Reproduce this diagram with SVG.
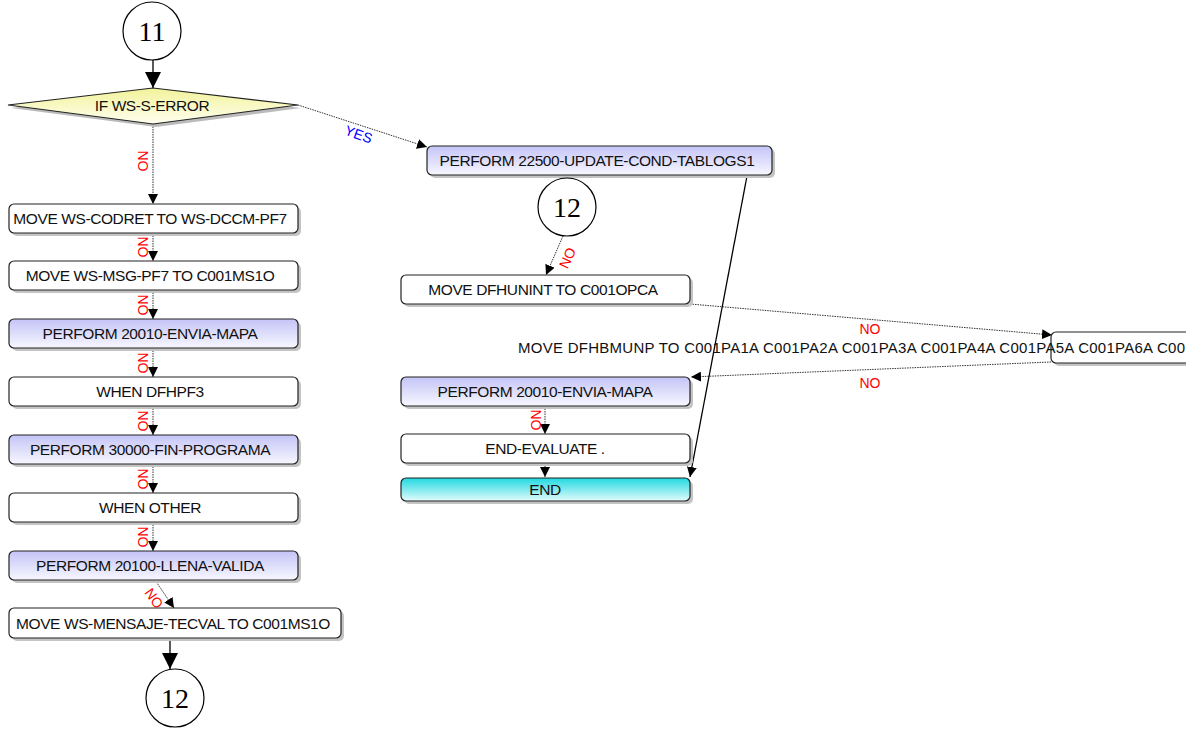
<svg xmlns="http://www.w3.org/2000/svg" width="1201" height="731" viewBox="0 0 1201 731">
<style>
.box{stroke:#222;stroke-width:1.2}
.w{fill:#fff}
.b{fill:url(#gb)}
.c{fill:url(#gc)}
.sh{fill:#c4c4c4}
.t{font-family:"Liberation Sans",Arial,sans-serif;font-size:15.5px;letter-spacing:-0.4px;fill:#111;text-anchor:middle}
.tl{font-family:"Liberation Sans",Arial,sans-serif;font-size:15px;fill:#111}
.circ{fill:#fff;stroke:#000;stroke-width:1.2}
.ct{font-family:"Liberation Serif","Times New Roman",serif;font-size:28px;fill:#000;text-anchor:middle}
.dot{fill:none;stroke:#333;stroke-width:1;stroke-dasharray:1.5 1}
.sol{fill:none;stroke:#000;stroke-width:1.3}
.no{font-family:"Liberation Sans",Arial,sans-serif;font-size:14px;fill:#f00}
.yes{font-family:"Liberation Sans",Arial,sans-serif;font-size:14px;fill:#00f}
</style>
<defs>
<linearGradient id="gb" x1="0" y1="0" x2="0" y2="1"><stop offset="0" stop-color="#c4c4f7"/><stop offset="1" stop-color="#f7f7ff"/></linearGradient>
<linearGradient id="gc" x1="0" y1="0" x2="0" y2="1"><stop offset="0" stop-color="#1fd9e0"/><stop offset="1" stop-color="#e4fbfc"/></linearGradient>
<linearGradient id="gy" x1="0" y1="0" x2="0" y2="1"><stop offset="0" stop-color="#f2f29a"/><stop offset="1" stop-color="#fffff0"/></linearGradient>
<marker id="as" viewBox="0 0 10 10" refX="10" refY="5" markerWidth="10" markerHeight="10" markerUnits="userSpaceOnUse" orient="auto"><path d="M0,0 L10,5 L0,10 z" fill="#000"/></marker>
<marker id="al" viewBox="0 0 10 10" refX="10" refY="5" markerWidth="16" markerHeight="16" markerUnits="userSpaceOnUse" orient="auto"><path d="M0,0 L10,5 L0,10 z" fill="#000"/></marker>
<clipPath id="clipR"><rect x="0" y="0" width="1186" height="731"/></clipPath>
</defs>
<rect width="1201" height="731" fill="#fff"/>

<g id="connectors">
<line class="sol" x1="153" y1="60" x2="153" y2="88" marker-end="url(#al)"/>
<line class="dot" x1="153" y1="124" x2="153" y2="204" marker-end="url(#as)"/>
<text class="no" transform="translate(138,161) rotate(90)" text-anchor="middle">NO</text>
<line class="dot" x1="298" y1="105" x2="427" y2="147" marker-end="url(#as)"/>
<text class="yes" transform="translate(357,139) rotate(20)" text-anchor="middle">YES</text>

<line class="dot" x1="153" y1="233" x2="153" y2="261" marker-end="url(#as)"/>
<text class="no" transform="translate(138,247) rotate(90)" text-anchor="middle">NO</text>
<line class="dot" x1="153" y1="290" x2="153" y2="319" marker-end="url(#as)"/>
<text class="no" transform="translate(138,305) rotate(90)" text-anchor="middle">NO</text>
<line class="dot" x1="153" y1="348" x2="153" y2="377" marker-end="url(#as)"/>
<text class="no" transform="translate(138,363) rotate(90)" text-anchor="middle">NO</text>
<line class="dot" x1="153" y1="406" x2="153" y2="435" marker-end="url(#as)"/>
<text class="no" transform="translate(138,421) rotate(90)" text-anchor="middle">NO</text>
<line class="dot" x1="153" y1="464" x2="153" y2="493" marker-end="url(#as)"/>
<text class="no" transform="translate(138,479) rotate(90)" text-anchor="middle">NO</text>
<line class="dot" x1="153" y1="522" x2="153" y2="551" marker-end="url(#as)"/>
<text class="no" transform="translate(138,537) rotate(90)" text-anchor="middle">NO</text>
<line class="dot" x1="155" y1="580" x2="174" y2="608" marker-end="url(#as)"/>
<text class="no" transform="translate(150,601) rotate(55)" text-anchor="middle">NO</text>
<line class="sol" x1="170" y1="638" x2="170" y2="669" marker-end="url(#al)"/>

<line class="dot" x1="563" y1="236" x2="546" y2="275" marker-end="url(#as)"/>
<text class="no" transform="translate(572,260) rotate(-65)" text-anchor="middle">NO</text>
<line class="dot" x1="690" y1="304" x2="1052" y2="335" marker-end="url(#as)"/>
<text class="no" x="870" y="334" text-anchor="middle">NO</text>
<line class="dot" x1="1051" y1="362" x2="691" y2="377" marker-end="url(#as)"/>
<text class="no" x="870" y="388" text-anchor="middle">NO</text>
<line class="dot" x1="545" y1="406" x2="545" y2="434" marker-end="url(#as)"/>
<text class="no" transform="translate(531,420) rotate(90)" text-anchor="middle">NO</text>
<line class="dot" x1="545" y1="463" x2="545" y2="477" marker-end="url(#as)"/>
<line class="sol" x1="747" y1="176" x2="690" y2="477" marker-end="url(#as)"/>
</g>

<g id="n11">
<circle class="circ" cx="152" cy="31" r="29"/>
<text class="ct" x="152" y="41">11</text>
</g>

<g id="ifnode">
<polygon points="11,108 156,91 301,108 156,127" fill="#bbb"/>
<polygon points="8,105 153,88 298,105 153,124" fill="url(#gy)" stroke="#222" stroke-width="1.2"/>
<text class="t" x="152" y="111">IF WS-S-ERROR</text>
</g>

<g id="n1"><rect class="sh" x="12" y="207" width="289" height="29" rx="5"/><rect class="box w" x="9" y="204" width="289" height="29" rx="5"/><text class="t" x="150" y="224">MOVE WS-CODRET TO WS-DCCM-PF7</text></g>
<g id="n2"><rect class="sh" x="12" y="264" width="289" height="29" rx="5"/><rect class="box w" x="9" y="261" width="289" height="29" rx="5"/><text class="t" x="150" y="281">MOVE WS-MSG-PF7 TO C001MS1O</text></g>
<g id="n3"><rect class="sh" x="12" y="322" width="289" height="29" rx="5"/><rect class="box b" x="9" y="319" width="289" height="29" rx="5"/><text class="t" x="150" y="339">PERFORM 20010-ENVIA-MAPA</text></g>
<g id="n4"><rect class="sh" x="12" y="380" width="289" height="29" rx="5"/><rect class="box w" x="9" y="377" width="289" height="29" rx="5"/><text class="t" x="150" y="397">WHEN DFHPF3</text></g>
<g id="n5"><rect class="sh" x="12" y="438" width="289" height="29" rx="5"/><rect class="box b" x="9" y="435" width="289" height="29" rx="5"/><text class="t" x="150" y="455">PERFORM 30000-FIN-PROGRAMA</text></g>
<g id="n6"><rect class="sh" x="12" y="496" width="289" height="29" rx="5"/><rect class="box w" x="9" y="493" width="289" height="29" rx="5"/><text class="t" x="150" y="513">WHEN OTHER</text></g>
<g id="n7"><rect class="sh" x="12" y="554" width="289" height="29" rx="5"/><rect class="box b" x="9" y="551" width="289" height="29" rx="5"/><text class="t" x="150" y="571">PERFORM 20100-LLENA-VALIDA</text></g>
<g id="n8"><rect class="sh" x="12" y="611" width="332" height="30" rx="5"/><rect class="box w" x="9" y="608" width="332" height="30" rx="5"/><text class="t" x="173" y="629">MOVE WS-MENSAJE-TECVAL TO C001MS1O</text></g>

<g id="n12a">
<circle class="circ" cx="175" cy="698" r="29"/>
<text class="ct" x="175" y="708">12</text>
</g>

<g id="r1"><rect class="sh" x="430" y="149" width="345" height="29" rx="5"/><rect class="box b" x="427" y="146" width="345" height="29" rx="5"/><text class="t" x="597" y="166">PERFORM 22500-UPDATE-COND-TABLOGS1</text></g>

<g id="n12b">
<circle class="circ" cx="567" cy="207" r="29"/>
<text class="ct" x="567" y="217">12</text>
</g>

<g id="r2"><rect class="sh" x="404" y="278" width="289" height="29" rx="5"/><rect class="box w" x="401" y="275" width="289" height="29" rx="5"/><text class="t" x="543" y="295">MOVE DFHUNINT TO C001OPCA</text></g>

<g id="r3" clip-path="url(#clipR)">
<rect class="sh" x="1054" y="335" width="160" height="31" rx="5"/>
<rect class="box w" x="1051" y="332" width="160" height="31" rx="5"/>
<text class="tl" x="518" y="353" textLength="667" lengthAdjust="spacing">MOVE DFHBMUNP TO C001PA1A C001PA2A C001PA3A C001PA4A C001PA5A C001PA6A C00</text>
</g>

<g id="r4"><rect class="sh" x="404" y="380" width="289" height="29" rx="5"/><rect class="box b" x="401" y="377" width="289" height="29" rx="5"/><text class="t" x="545" y="397">PERFORM 20010-ENVIA-MAPA</text></g>
<g id="r5"><rect class="sh" x="404" y="437" width="289" height="29" rx="5"/><rect class="box w" x="401" y="434" width="289" height="29" rx="5"/><text class="t" x="545" y="454">END-EVALUATE .</text></g>
<g id="r6"><rect class="sh" x="404" y="481" width="289" height="23" rx="5"/><rect class="box c" x="401" y="478" width="289" height="23" rx="5"/><text class="t" x="545" y="495">END</text></g>
</svg>
